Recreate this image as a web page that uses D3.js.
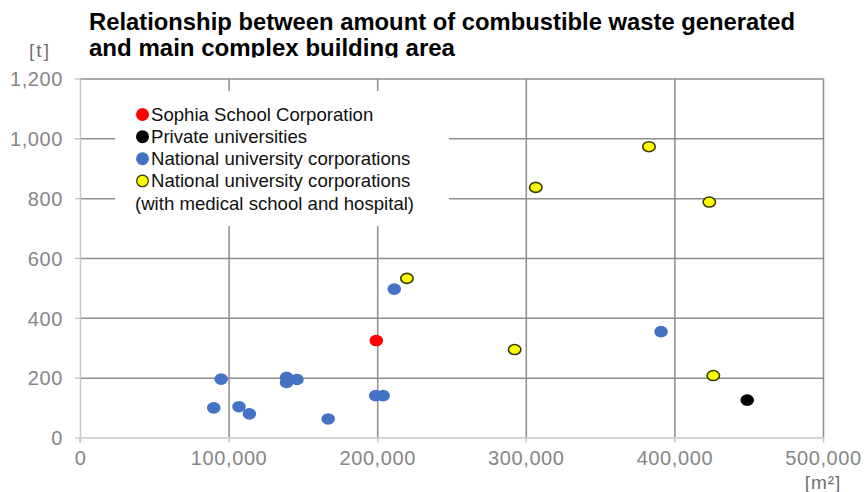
<!DOCTYPE html>
<html>
<head>
<meta charset="utf-8">
<script src="https://cdn.jsdelivr.net/npm/d3@7"></script>
<style>
  html, body { margin: 0; padding: 0; background: #fff; }
  svg { display: block; }
</style>
</head>
<body>
<svg id="chart" width="865" height="492"></svg>
<script>
// Main complex building area [m²] vs combustible waste generated [t]
const sophiaArea = [199400];
const sophiaWaste = [324];

const privateArea = [449000];
const privateWaste = [125];

const nationalArea = [90000, 95000, 107000, 114000, 139000, 139000, 146000, 167000, 199000, 204000, 211500, 391000];
const nationalWaste = [99, 195, 103, 79, 201, 184, 194, 62, 140, 140, 496, 354];

const medicalArea = [220000, 292500, 306700, 382900, 423500, 426200];
const medicalWaste = [532, 294, 836, 972, 787, 207];

const xTicks = [0, 100000, 200000, 300000, 400000, 500000];
const yTicks = [0, 200, 400, 600, 800, 1000, 1200];

const titleLines = [
  "Relationship between amount of combustible waste generated",
  "and main complex building area"
];
const legendLabels = [
  "Sophia School Corporation",
  "Private universities",
  "National university corporations",
  "National university corporations",
  "(with medical school and hospital)"
];

const svg = d3.select("#chart");
const plotLeft = 80, plotRight = 823, plotTop = 78.5, plotBottom = 437.5;

const x = d3.scaleLinear().domain([0, 500000]).range([plotLeft, plotRight]);
const y = d3.scaleLinear().domain([0, 1200]).range([plotBottom, plotTop]);

const tickFont = "'Liberation Sans', Arial, sans-serif";
const tickColor = "#868686";
const gridColor = "#8e8e8e";
const axisColor = "#c6c6c6";

// Gridlines
const gridY = svg.append("g").attr("transform", `translate(${plotLeft},0)`)
  .call(d3.axisLeft(y).tickValues(yTicks.filter(v => v > 0)).tickSize(-(plotRight - plotLeft)).tickFormat(""));
gridY.select(".domain").remove();
gridY.selectAll("line").attr("stroke", gridColor).attr("stroke-width", 1.5);

const gridX = svg.append("g").attr("transform", `translate(0,${plotBottom})`)
  .call(d3.axisBottom(x).tickValues(xTicks.filter(v => v > 0)).tickSize(-(plotBottom - plotTop)).tickFormat(""));
gridX.select(".domain").remove();
gridX.selectAll("line").attr("stroke", gridColor).attr("stroke-width", 1.5);

// Axes
const yAxis = svg.append("g").attr("transform", `translate(${plotLeft},0)`)
  .call(d3.axisLeft(y).tickValues(yTicks).tickSize(5).tickSizeOuter(0).tickPadding(12).tickFormat(d3.format(",")));
const xAxis = svg.append("g").attr("transform", `translate(0,${plotBottom})`)
  .call(d3.axisBottom(x).tickValues(xTicks).tickSize(5).tickSizeOuter(0).tickPadding(8).tickFormat(d3.format(",")));

[yAxis, xAxis].forEach(a => {
  a.select(".domain").attr("stroke", axisColor).attr("stroke-width", 1.5);
  a.selectAll(".tick line").attr("stroke", axisColor).attr("stroke-width", 1.5);
  a.selectAll(".tick text")
    .attr("fill", tickColor)
    .style("font-family", tickFont)
    .style("font-size", "20px")
    .style("letter-spacing", "0.6px");
});
yAxis.selectAll(".tick text").attr("dy", "0.36em");
// extend the vertical axis line slightly below zero
yAxis.append("line").attr("x1", 0).attr("x2", 0).attr("y1", plotBottom).attr("y2", plotBottom + 5)
  .attr("stroke", axisColor).attr("stroke-width", 1.5);

// Unit labels
svg.append("text").attr("x", 40).attr("y", 57).attr("text-anchor", "middle")
  .attr("fill", "#6f6f6f").style("font-family", tickFont).style("font-size", "19px")
  .style("letter-spacing", "2px").text("[t]");
svg.append("text").attr("x", 823).attr("y", 489).attr("text-anchor", "middle")
  .attr("fill", "#6f6f6f").style("font-family", tickFont).style("font-size", "19px")
  .style("letter-spacing", "1px").text("[m²]");

// Legend box (covers the gridlines behind it)
const legend = svg.append("g");
legend.append("rect").attr("x", 115).attr("y", 91).attr("width", 334).attr("height", 135).attr("fill", "#fff");

const markerStyles = [
  { fill: "#ff0000", stroke: "none" },
  { fill: "#000000", stroke: "none" },
  { fill: "#4472c4", stroke: "none" },
  { fill: "#ffff00", stroke: "#333300" },
  null
];
const rowY = d3.scaleLinear().domain([0, 4]).range([114.5, 203]);
legendLabels.forEach((label, i) => {
  const ry = rowY(i);
  const style = markerStyles[i];
  if (style) {
    legend.append("circle").attr("cx", 142.5).attr("cy", ry).attr("r", style.stroke === "none" ? 6.5 : 5.8)
      .attr("fill", style.fill).attr("stroke", style.stroke).attr("stroke-width", 1.3);
  }
  legend.append("text").attr("x", style ? 151 : 135).attr("y", ry).attr("dy", "0.35em")
    .attr("fill", "#111").style("font-family", "'Liberation Sans', Arial, sans-serif")
    .style("font-size", "18.6px").text(label);
});

// Data points
function plotSeries(xs, ys, fill, stroke) {
  const pts = xs.map((v, i) => ({ area: v, waste: ys[i] }));
  svg.append("g").selectAll("ellipse").data(pts).join("ellipse")
    .attr("cx", d => x(d.area))
    .attr("cy", d => y(d.waste))
    .attr("rx", stroke ? 6.2 : 6.8)
    .attr("ry", stroke ? 5 : 5.8)
    .attr("fill", fill)
    .attr("stroke", stroke || "none")
    .attr("stroke-width", stroke ? 1.6 : 0);
}
plotSeries(nationalArea, nationalWaste, "#4472c4");
plotSeries(medicalArea, medicalWaste, "#ffff00", "#3a3a00");
plotSeries(sophiaArea, sophiaWaste, "#ff0000");
plotSeries(privateArea, privateWaste, "#000000");

// Title (second line is cut off at the bottom edge of its box)
svg.append("defs").append("clipPath").attr("id", "titleClip")
  .append("rect").attr("x", 0).attr("y", 0).attr("width", 865).attr("height", 57.5);
const title = svg.append("g").attr("clip-path", "url(#titleClip)");
const titleWidths = [706, 366];
titleLines.forEach((line, i) => {
  title.append("text").attr("x", 89).attr("y", 30 + i * 26)
    .attr("textLength", titleWidths[i]).attr("lengthAdjust", "spacingAndGlyphs")
    .attr("fill", "#000").style("font-family", "'Liberation Sans', Arial, sans-serif")
    .style("font-weight", "bold").style("font-size", "24px").text(line);
});
</script>
</body>
</html>
